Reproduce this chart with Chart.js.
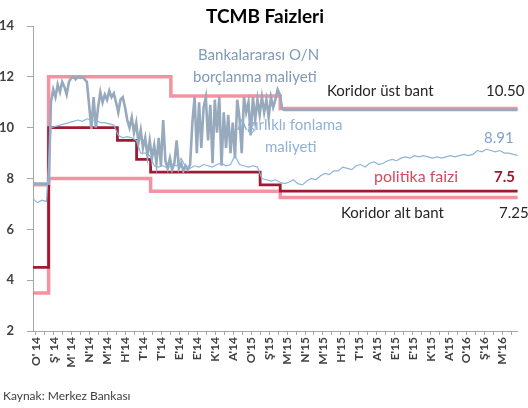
<!DOCTYPE html>
<html lang="tr">
<head>
<meta charset="UTF-8">
<title>TCMB Faizleri</title>
<script src="https://cdn.jsdelivr.net/npm/chart.js"></script>
<style>
  body { margin: 0; background: #fff; }
  #wrap { width: 528px; height: 408px; }
</style>
</head>
<body>
<div id="wrap"><canvas id="chart" width="528" height="408"></canvas></div>
<script>
// x axis: months since start of Jan 2014
const monthLabels = ["O' 14", "Ş' 14", "M' 14", "N'14", "M'14", "H'14", "T'14", "T'14", "E'14", "E'14", "K'14", "A'14",
    "O'15", "Ş'15", "M'15", "N'15", "M'15", "H'15", "T'15", "A'15", "E'15", "E'15", "K'15", "A'15",
    "O'16", "Ş'16", "M'16"];

// step series (date of change, new level)
const policyDates = [0, 0.87, 4.7, 5.77, 6.55, 12.65, 13.77, 27];
const policyRate  = [4.5, 10, 9.5, 8.75, 8.25, 7.75, 7.5, 7.5];
const upperDates  = [0, 0.87, 7.68, 13.77, 27];
const upperBand   = [7.75, 12, 11.25, 10.75, 10.75];
const lowerDates  = [0, 0.87, 6.55, 13.77, 27];
const lowerBand   = [3.5, 8, 7.5, 7.25, 7.25];

// weighted funding cost, every quarter month from Jan 2014
const wfcStep = 0.25;
const wfcValues = [7.2, 7.05, 7.15, 7.1, 10.0, 10.05, 10.1, 10.15, 10.2, 10.25, 10.3, 10.25,
    10.35, 10.3, 10.3, 10.2, 10.2, 10.15, 10.1, 9.7, 9.6, 9.65, 9.6, 9.5,
    9.0, 9.0, 8.9, 8.5, 8.45, 8.5, 8.4, 8.55, 8.5, 8.8, 8.45, 8.4,
    8.5, 8.45, 8.55, 8.5, 8.45, 8.55, 8.6, 8.5, 8.55, 8.9, 8.55, 8.5,
    8.45, 8.5, 8.45, 8.0, 7.95, 7.9, 7.95, 7.85, 7.8, 7.85, 7.95, 7.8,
    7.75, 7.9, 8.0, 7.95, 8.1, 8.2, 8.15, 8.3, 8.3, 8.45, 8.4, 8.35,
    8.5, 8.55, 8.45, 8.6, 8.65, 8.55, 8.6, 8.7, 8.75, 8.7, 8.8, 8.85,
    8.8, 8.9, 8.85, 8.9, 8.85, 8.8, 8.85, 8.8, 8.85, 8.9, 8.85, 8.9,
    8.95, 8.9, 8.95, 9.1, 9.05, 9.15, 9.1, 9.05, 9.1, 9.0, 9.0, 8.95, 8.91];

// interbank O/N borrowing cost
const onHeadDates = [0];
const onHeadValues = [7.8];
const onStart = 0.875, onStep = 0.125;
const onValues = [7.8, 11.0, 11.5, 11.2, 11.7, 11.4, 11.8, 11.6, 11.3, 11.8, 11.95, 12.0,
    11.9, 12.0, 11.95, 12.0, 11.9, 11.8, 10.9, 9.95, 11.2, 10.0, 10.8, 11.4,
    11.0, 11.3, 11.1, 11.45, 11.2, 11.35, 11.0, 10.6, 11.1, 11.2, 10.8, 10.3,
    10.0, 10.4, 9.8, 10.2, 9.4, 9.9, 9.2, 9.6, 8.9, 9.5, 8.8, 9.3,
    8.6, 9.6, 8.5, 10.3, 8.7, 8.4, 8.8, 8.35, 8.6, 9.5, 8.4, 8.6,
    8.3, 8.5, 8.35, 8.55, 10.2, 11.2, 9.0, 11.0, 9.2, 10.8, 11.2, 9.5,
    10.9, 8.6, 11.1, 9.8, 11.2, 8.5, 10.6, 9.2, 10.5, 9.0, 10.2, 8.8,
    11.1, 10.4, 9.0, 11.2, 10.6, 11.0, 9.7, 11.2, 10.3, 11.1, 10.5, 11.2,
    10.6, 11.1, 10.4, 11.2, 10.8, 11.1, 11.5, 11.3, 10.75];
const onTailDates = [14, 27];
const onTailValues = [10.7, 10.7];

const pts = (xs, ys) => xs.map((x, i) => ({ x: x, y: ys[i] }));
const wfcData = wfcValues.map((v, i) => ({ x: i * wfcStep, y: v }));
const onData = pts(onHeadDates, onHeadValues)
    .concat(onValues.map((v, i) => ({ x: onStart + i * onStep, y: v })))
    .concat(pts(onTailDates, onTailValues));

// month ticks (labelled) and half-month ticks (unlabelled)
const tickPositions = [];
monthLabels.forEach((l, i) => { tickPositions.push(i + 0.15, i + 0.65); });

const FONT = 'Lato, "Open Sans", sans-serif';

const textPlugin = {
    id: 'texts',
    afterDraw(chart) {
        const c = chart.ctx;
        c.save();
        c.textBaseline = 'middle';
        const put = (t, x, y, size, color, bold) => {
            c.font = (bold ? 'bold ' : '') + size + 'px ' + FONT;
            c.fillStyle = color;
            c.textAlign = 'left';
            c.fillText(t, x, y);
        };
        c.font = 'bold 19px ' + FONT;
        c.fillStyle = '#000';
        c.textAlign = 'center';
        c.fillText('TCMB Faizleri', 265, 17);

        put('Bankalararası O/N', 198, 55, 15, '#7f9ab6');
        put('borçlanma maliyeti', 193, 77, 15, '#7f9ab6');
        put('Koridor üst bant', 327, 91, 15, '#262626');
        put('10.50', 486, 91, 15, '#262626');
        put('Ağırlıklı fonlama', 237, 125, 15, '#90b2d4');
        put('maliyeti', 265, 147, 15, '#90b2d4');
        put('8.91', 484, 138, 15, '#7ea3c8');
        put('politika faizi', 374, 177, 16, '#d8485e');
        put('7.5', 494, 177, 15, '#a3162c', true);
        put('Koridor alt bant', 341, 213, 15, '#262626');
        put('7.25', 499, 213, 15, '#262626');
        put('Kaynak: Merkez Bankası', 3, 396, 12, '#404040');
        c.restore();
    }
};

const ctx = document.getElementById('chart').getContext('2d');
new Chart(ctx, {
    type: 'line',
    data: {
        datasets: [
            { label: 'Ağırlıklı fonlama maliyeti', data: wfcData, borderColor: '#8db4da', borderWidth: 1.2, pointRadius: 0 },
            { label: 'Bankalararası O/N borçlanma maliyeti', data: onData, borderColor: '#97a9bc', borderWidth: 2.6, pointRadius: 0 },
            { label: 'politika faizi', data: pts(policyDates, policyRate), stepped: true, borderColor: '#a01b31', borderWidth: 2.8, pointRadius: 0 },
            { label: 'Koridor üst bant', data: pts(upperDates, upperBand), stepped: true, borderColor: 'rgba(240,120,138,0.8)', borderWidth: 3.5, pointRadius: 0 },
            { label: 'Koridor alt bant', data: pts(lowerDates, lowerBand), stepped: true, borderColor: 'rgba(240,120,138,0.8)', borderWidth: 3.5, pointRadius: 0 }
        ]
    },
    options: {
        responsive: false,
        animation: false,
        layout: { padding: { top: 26, right: 8, left: 0, bottom: 0 } },
        plugins: {
            legend: { display: false },
            tooltip: { enabled: false },
            title: { display: false }
        },
        scales: {
            x: {
                type: 'linear',
                min: 0,
                max: 27,
                afterBuildTicks: s => { s.ticks = tickPositions.map(v => ({ value: v })); },
                afterFit: s => { s.height = 77; },
                ticks: {
                    autoSkip: false,
                    minRotation: 90,
                    maxRotation: 90,
                    padding: 2,
                    color: '#404040',
                    font: { family: FONT, size: 12, weight: 'bold' },
                    callback: (v, i) => (i % 2 === 0 ? monthLabels[i / 2] : '')
                },
                grid: { drawOnChartArea: false, tickLength: 4, color: '#a6a6a6' },
                border: { color: '#a6a6a6' }
            },
            y: {
                min: 2,
                max: 14,
                afterFit: s => { s.width = 33; },
                ticks: {
                    stepSize: 2,
                    padding: 13,
                    color: '#404040',
                    font: { family: FONT, size: 13, weight: 'bold' }
                },
                grid: { drawOnChartArea: false, tickLength: 6, color: '#a6a6a6' },
                border: { color: '#a6a6a6' }
            }
        }
    },
    plugins: [textPlugin]
});
</script>
</body>
</html>
